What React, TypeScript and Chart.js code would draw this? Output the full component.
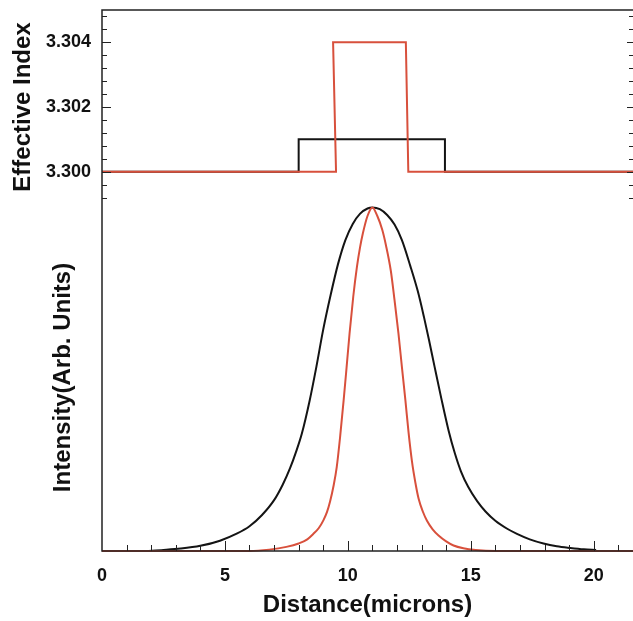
import React, { useEffect, useRef } from 'react';
import { Chart, registerables } from 'chart.js';

Chart.register(...registerables);

// ---------- data ----------
const X_MIN = 0;
const X_MAX = 21.6;
const xTickValues = [0, 5, 10, 15, 20];
const xMinorStep = 1;

const INDEX_MIN = 3.299;
const INDEX_MAX = 3.305;
const indexTickValues = [3.3, 3.302, 3.304];
const indexMinorStep = 0.0004;
const indexMinorStart = 3.2992;

const INTENSITY_MIN = 0;
const INTENSITY_MAX = 1.01;

// effective index profiles (top panel)
const blackIndexX = [0, 8.0, 8.0, 13.95, 13.95, 21.6];
const blackIndexY = [3.3, 3.3, 3.301, 3.301, 3.3, 3.3];
const redIndexX = [0, 9.52, 9.4, 12.36, 12.46, 21.6];
const redIndexY = [3.3, 3.3, 3.304, 3.304, 3.3, 3.3];

// intensity profiles (bottom panel)
const blackIntensityX = [
  1.8, 2.5, 3.2, 4.0, 4.8, 5.5, 6.0, 6.5, 7.0, 7.35, 7.65, 7.9, 8.13, 8.45, 8.72, 9.0, 9.3, 9.6, 9.9, 10.2, 10.5, 10.8, 11.0,
  11.3, 11.6, 11.9, 12.2, 12.54, 12.85, 13.1, 13.3, 13.53, 13.8, 14.1, 14.35, 14.6, 14.9, 15.26, 15.6, 16.0, 16.5, 16.88, 17.4, 17.96, 18.5, 19.05, 19.6, 20.1,
];
const blackIntensityY = [
  0.0, 0.003, 0.007, 0.015, 0.03, 0.051, 0.072, 0.104, 0.148, 0.193, 0.241, 0.29, 0.342, 0.439, 0.536, 0.645, 0.745, 0.835, 0.905, 0.952, 0.982, 0.997, 1.0,
  0.995, 0.978, 0.95, 0.905, 0.83, 0.755, 0.68, 0.615, 0.536, 0.445, 0.35, 0.285, 0.232, 0.186, 0.145, 0.115, 0.088, 0.064, 0.05, 0.034, 0.022, 0.014, 0.009, 0.005, 0.003,
];

const redIntensityX = [
  0, 6.0, 6.8, 7.5, 8.0, 8.35, 8.6, 8.82, 9.01, 9.15, 9.28, 9.42, 9.55, 9.69, 9.83, 9.95, 10.07, 10.22, 10.37, 10.5, 10.61, 10.8, 11.0,
  11.2, 11.4, 11.55, 11.75, 11.9, 12.06, 12.2, 12.34, 12.47, 12.61, 12.75, 12.88, 13.05, 13.22, 13.45, 13.69, 14.0, 14.3, 14.7, 15.2, 16.0, 21.6,
];
const redIntensityY = [
  0, 0, 0.004, 0.012, 0.022, 0.034, 0.05, 0.067, 0.09, 0.113, 0.145, 0.19, 0.245, 0.335, 0.439, 0.535, 0.633, 0.74, 0.827, 0.885, 0.924, 0.975, 1.0,
  0.975, 0.935, 0.89, 0.815, 0.73, 0.633, 0.535, 0.44, 0.345, 0.26, 0.198, 0.152, 0.115, 0.088, 0.063, 0.045, 0.028, 0.016, 0.008, 0.003, 0, 0,
];

// ---------- styles ----------
const FONT = "'Liberation Sans', Arial, Helvetica, sans-serif";
const BLACK = '#141414';
const RED = '#d8503c';
const AXIS = '#222222';

const pts = (xs: number[], ys: number[]) => xs.map((x, i) => ({ x, y: ys[i] }));

const noEdgePadding = (s: any) => {
  s.paddingTop = 0;
  s.paddingBottom = 0;
  s.paddingLeft = 0;
  s.paddingRight = 0;
};

const topFrame = {
  id: 'topFrame',
  afterDraw(chart: any) {
    const { ctx, chartArea: a, scales } = chart;
    const y = scales.y;
    ctx.save();
    ctx.strokeStyle = AXIS;
    ctx.lineWidth = 1.5;
    ctx.beginPath();
    ctx.moveTo(a.left, a.bottom);
    ctx.lineTo(a.left, a.top);
    ctx.lineTo(a.right, a.top);
    ctx.stroke();
    ctx.lineWidth = 1;
    ctx.beginPath();
    for (let v = indexMinorStart; v <= INDEX_MAX + 1e-9; v += indexMinorStep) {
      const py = Math.round(y.getPixelForValue(v)) + 0.5;
      ctx.moveTo(a.left, py);
      ctx.lineTo(a.left + 5, py);
      ctx.moveTo(a.right, py);
      ctx.lineTo(a.right - 4, py);
    }
    for (const v of indexTickValues) {
      const py = Math.round(y.getPixelForValue(v)) + 0.5;
      ctx.moveTo(a.left, py);
      ctx.lineTo(a.left + 9, py);
      ctx.moveTo(a.right, py);
      ctx.lineTo(a.right - 6, py);
    }
    ctx.stroke();
    ctx.restore();
  },
};

const bottomFrame = {
  id: 'bottomFrame',
  afterDraw(chart: any) {
    const { ctx, chartArea: a, scales } = chart;
    const x = scales.x;
    ctx.save();
    ctx.strokeStyle = AXIS;
    ctx.lineWidth = 1.5;
    ctx.beginPath();
    ctx.moveTo(a.left, a.top);
    ctx.lineTo(a.left, a.bottom);
    ctx.lineTo(a.right, a.bottom);
    ctx.stroke();
    ctx.lineWidth = 1;
    ctx.beginPath();
    for (let v = X_MIN + xMinorStep; v <= X_MAX + 1e-9; v += xMinorStep) {
      const px = Math.round(x.getPixelForValue(v)) + 0.5;
      const major = xTickValues.includes(Math.round(v));
      ctx.moveTo(px, a.bottom);
      ctx.lineTo(px, a.bottom - (major ? 10 : 6));
    }
    ctx.stroke();
    ctx.restore();
  },
};

const tickFont = { family: FONT, size: 18, weight: 'bold' as const };
const titleFont = { family: FONT, size: 24, weight: 'bold' as const };

export default function App() {
  const topRef = useRef<HTMLCanvasElement>(null);
  const botRef = useRef<HTMLCanvasElement>(null);

  useEffect(() => {
    const top = new Chart(topRef.current as HTMLCanvasElement, {
      type: 'line',
      data: {
        datasets: [
          { data: pts(redIndexX, redIndexY), borderColor: RED, borderWidth: 2, pointRadius: 0, tension: 0, clip: 4 } as any,
          { data: pts(blackIndexX, blackIndexY), borderColor: BLACK, borderWidth: 2, pointRadius: 0, tension: 0, clip: 4 } as any,
        ],
      },
      options: {
        responsive: false,
        animation: false,
        layout: { padding: { left: 5, top: 10, right: 0, bottom: 0 } },
        plugins: { legend: { display: false }, tooltip: { enabled: false } },
        scales: {
          x: { type: 'linear', min: X_MIN, max: X_MAX, display: false },
          y: {
            type: 'linear',
            min: INDEX_MIN,
            max: INDEX_MAX,
            afterBuildTicks: (s: any) => {
              s.ticks = indexTickValues.map((v) => ({ value: v }));
            },
            afterFit: (s: any) => {
              s.width = 97;
              noEdgePadding(s);
            },
            grid: { display: false, drawTicks: false },
            border: { display: false },
            ticks: {
              padding: 11,
              color: '#111',
              font: tickFont,
              callback: (v: any) => Number(v).toFixed(3),
            },
            title: {
              display: true,
              text: 'Effective Index',
              color: '#111',
              font: titleFont,
              padding: { top: 4, bottom: 4 },
            },
          },
        },
      } as any,
      plugins: [topFrame],
    });

    const bottom = new Chart(botRef.current as HTMLCanvasElement, {
      type: 'line',
      data: {
        datasets: [
          { data: pts(redIntensityX, redIntensityY), borderColor: RED, borderWidth: 2, pointRadius: 0, cubicInterpolationMode: 'monotone', clip: 4 } as any,
          { data: pts(blackIntensityX, blackIntensityY), borderColor: BLACK, borderWidth: 2, pointRadius: 0, cubicInterpolationMode: 'monotone', clip: 4 } as any,
        ],
      },
      options: {
        responsive: false,
        animation: false,
        layout: { padding: { left: 45, top: 0, right: 0, bottom: 0 } },
        plugins: { legend: { display: false }, tooltip: { enabled: false } },
        scales: {
          x: {
            type: 'linear',
            min: X_MIN,
            max: X_MAX,
            afterBuildTicks: (s: any) => {
              s.ticks = xTickValues.map((v) => ({ value: v }));
            },
            afterFit: (s: any) => {
              s.height = 70;
              noEdgePadding(s);
            },
            grid: { display: false, drawTicks: false },
            border: { display: false },
            ticks: { padding: 14, color: '#111', font: tickFont, maxRotation: 0 },
            title: {
              display: true,
              text: 'Distance(microns)',
              color: '#111',
              font: titleFont,
              padding: { top: 0, bottom: 1 },
            },
          },
          y: {
            type: 'linear',
            min: INTENSITY_MIN,
            max: INTENSITY_MAX,
            afterFit: (s: any) => {
              s.width = 57;
              noEdgePadding(s);
            },
            grid: { display: false, drawTicks: false },
            border: { display: false },
            ticks: { display: false },
            title: {
              display: true,
              text: 'Intensity(Arb. Units)',
              color: '#111',
              font: titleFont,
              padding: { top: 4, bottom: 4 },
            },
          },
        },
      } as any,
      plugins: [bottomFrame],
    });

    return () => {
      top.destroy();
      bottom.destroy();
    };
  }, []);

  return (
    <div style={{ position: 'absolute', left: 0, top: 0, width: 633, height: 621, background: '#fff' }}>
      <canvas ref={topRef} width={633} height={204} style={{ display: 'block' }} />
      <canvas ref={botRef} width={633} height={417} style={{ display: 'block' }} />
    </div>
  );
}
